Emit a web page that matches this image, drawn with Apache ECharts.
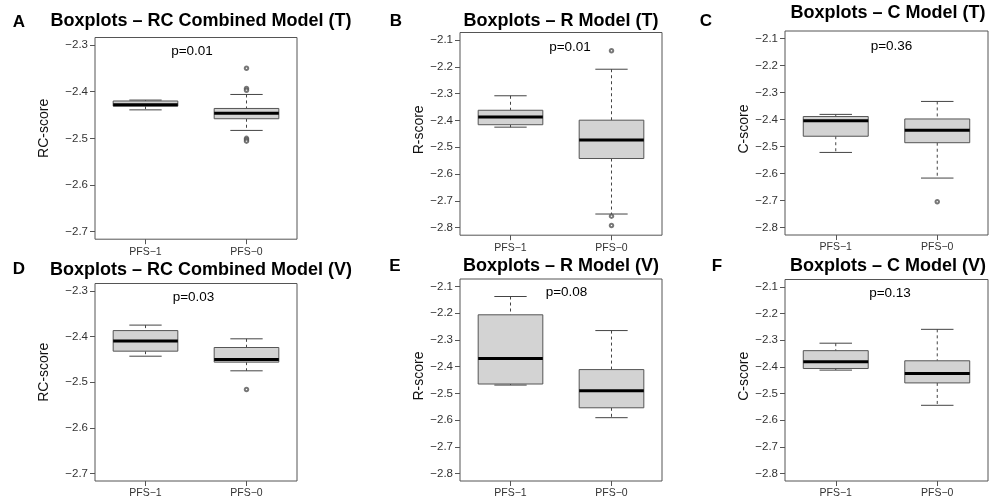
<!DOCTYPE html>
<html><head><meta charset="utf-8">
<script src="https://cdn.jsdelivr.net/npm/echarts@6/dist/echarts.min.js"></script>
<style>html,body{margin:0;padding:0;background:#fff}#c{width:991px;height:499px}</style>
</head><body><div id="c"></div>
<script>
// ---------- data ----------
const categories = ['PFS\u22121', 'PFS\u22120'];
// each box: [lower whisker, Q1, median, Q3, upper whisker]; first PFS-1, then PFS-0
const boxA = [[-2.439, -2.431, -2.428, -2.420, -2.418], [-2.483, -2.458, -2.446, -2.436, -2.406]];
const outA = [[1, -2.350], [1, -2.393], [1, -2.397], [1, -2.500], [1, -2.503], [1, -2.506]];
const boxB = [[-2.425, -2.416, -2.387, -2.362, -2.308], [-2.749, -2.542, -2.473, -2.399, -2.209]];
const outB = [[1, -2.140], [1, -2.757], [1, -2.792]];
const boxC = [[-2.522, -2.462, -2.405, -2.389, -2.381], [-2.617, -2.486, -2.440, -2.398, -2.333]];
const outC = [[1, -2.705]];
const boxD = [[-2.443, -2.432, -2.410, -2.387, -2.375], [-2.475, -2.456, -2.450, -2.424, -2.405]];
const outD = [[1, -2.516]];
const boxE = [[-2.469, -2.465, -2.370, -2.206, -2.1375], [-2.591, -2.554, -2.490, -2.411, -2.265]];
const outE = [];
const boxF = [[-2.412, -2.406, -2.381, -2.339, -2.311], [-2.544, -2.460, -2.425, -2.377, -2.259]];
const outF = [];
const ticksRC = [-2.7, -2.6, -2.5, -2.4, -2.3];
const ticksRCrange = [-2.716, -2.284];
const ticksSingle = [-2.8, -2.7, -2.6, -2.5, -2.4, -2.3, -2.2, -2.1];
const ticksSingleRange = [-2.828, -2.072];
const letters = ['A', 'B', 'C', 'D', 'E', 'F'];
const titles = ['Boxplots \u2013 RC Combined Model (T)', 'Boxplots \u2013 R Model (T)', 'Boxplots \u2013 C Model (T)',
                'Boxplots \u2013 RC Combined Model (V)', 'Boxplots \u2013 R Model (V)', 'Boxplots \u2013 C Model (V)'];
const pValues = ['p=0.01', 'p=0.01', 'p=0.36', 'p=0.03', 'p=0.08', 'p=0.13'];
const yNames = ['RC-score', 'R-score', 'C-score', 'RC-score', 'R-score', 'C-score'];

// ---------- layout ----------
const FONT = '"Liberation Sans", Arial, Helvetica, sans-serif';
const panels = [
  {box: boxA, out: outA, ticks: ticksRC, range: ticksRCrange, grid: {left: 95, top: 37.5, width: 202, height: 201.7}, nameGap: 44, namePad: 20,
   letter: [19, 22], title: [201, 21.5], p: [192, 51]},
  {box: boxB, out: outB, ticks: ticksSingle, range: ticksSingleRange, grid: {left: 460, top: 32.5, width: 202, height: 202.7}, nameGap: 32, namePad: 8,
   letter: [396, 21], title: [561, 21], p: [570, 47.5]},
  {box: boxC, out: outC, ticks: ticksSingle, range: ticksSingleRange, grid: {left: 785, top: 31, width: 203, height: 204}, nameGap: 32, namePad: 8,
   letter: [706, 21], title: [888, 13.5], p: [891.5, 46]},
  {box: boxD, out: outD, ticks: ticksRC, range: ticksRCrange, grid: {left: 95, top: 283.5, width: 202, height: 201}, nameGap: 44, namePad: 20,
   letter: [19, 269], title: [201, 270.5], p: [193.5, 297.5]},
  {box: boxE, out: outE, ticks: ticksSingle, range: ticksSingleRange, grid: {left: 460, top: 279, width: 202, height: 202}, nameGap: 32, namePad: 8,
   letter: [395, 266], title: [561, 266.5], p: [566.5, 292.5]},
  {box: boxF, out: outF, ticks: ticksSingle, range: ticksSingleRange, grid: {left: 785, top: 279.5, width: 203, height: 203.3}, nameGap: 32, namePad: 8,
   letter: [717, 266], title: [888, 266.5], p: [890, 293]}
];

const fmt = v => (v < 0 ? '\u2212' : '') + Math.abs(v).toFixed(1);

function renderBox(params, api) {
  const x = api.value(0);
  const low = api.coord([x, api.value(1)]);
  const q1 = api.coord([x, api.value(2)]);
  const med = api.coord([x, api.value(3)]);
  const q3 = api.coord([x, api.value(4)]);
  const high = api.coord([x, api.value(5)]);
  const band = api.size([1, 0])[0];
  const bw = band * 0.64, cw = bw * 0.5, cx = low[0];
  const dash = {stroke: '#444', lineWidth: 1, lineDash: [3, 3], fill: null};
  const solid = {stroke: '#444', lineWidth: 1, fill: null};
  return {type: 'group', children: [
    {type: 'line', shape: {x1: cx, y1: high[1], x2: cx, y2: q3[1]}, style: dash},
    {type: 'line', shape: {x1: cx, y1: q1[1], x2: cx, y2: low[1]}, style: dash},
    {type: 'line', shape: {x1: cx - cw / 2, y1: high[1], x2: cx + cw / 2, y2: high[1]}, style: solid},
    {type: 'line', shape: {x1: cx - cw / 2, y1: low[1], x2: cx + cw / 2, y2: low[1]}, style: solid},
    {type: 'rect', shape: {x: cx - bw / 2, y: q3[1], width: bw, height: q1[1] - q3[1]},
     style: {fill: '#d3d3d3', stroke: '#555', lineWidth: 1}},
    {type: 'line', shape: {x1: cx - bw / 2, y1: med[1], x2: cx + bw / 2, y2: med[1]},
     style: {stroke: '#000', lineWidth: 3, fill: null}}
  ]};
}

const grid = [], xAxis = [], yAxis = [], series = [], graphic = [];
panels.forEach((pn, i) => {
  grid.push(Object.assign({show: true, borderColor: '#555', borderWidth: 1, backgroundColor: 'transparent', containLabel: false}, pn.grid));
  xAxis.push({gridIndex: i, type: 'category', data: categories, boundaryGap: true,
    axisLine: {show: false}, splitLine: {show: false},
    axisTick: {show: true, alignWithLabel: true, length: 5, lineStyle: {color: '#555'}},
    axisLabel: {fontSize: 10.5, color: '#333', margin: 7, fontFamily: FONT}});
  yAxis.push({gridIndex: i, type: 'value', min: pn.range[0], max: pn.range[1],
    axisLine: {show: false}, splitLine: {show: false},
    axisTick: {show: true, length: 5, customValues: pn.ticks, lineStyle: {color: '#555'}},
    axisLabel: {customValues: pn.ticks, formatter: fmt, fontSize: 11.5, color: '#333', margin: 7, fontFamily: FONT},
    name: yNames[i], nameLocation: 'middle', nameGap: pn.nameGap,
    nameTextStyle: {fontSize: 14, color: '#111', fontFamily: FONT, padding: [0, 0, 0, pn.namePad]}});
  series.push({type: 'custom', xAxisIndex: i, yAxisIndex: i, renderItem: renderBox,
    encode: {x: 0, y: [1, 2, 3, 4, 5]}, silent: true,
    data: pn.box.map((d, k) => [k].concat(d))});
  series.push({type: 'scatter', xAxisIndex: i, yAxisIndex: i, symbol: 'emptyCircle', symbolSize: 3.5, silent: true,
    itemStyle: {color: '#555', borderColor: '#555', borderWidth: 1}, data: pn.out});
  graphic.push({type: 'text', x: pn.letter[0], y: pn.letter[1],
    style: {text: letters[i], font: 'bold 17px ' + FONT, fill: '#000', align: 'center', verticalAlign: 'middle'}});
  graphic.push({type: 'text', x: pn.title[0], y: pn.title[1],
    style: {text: titles[i], font: 'bold 18px ' + FONT, fill: '#000', align: 'center', verticalAlign: 'middle'}});
  graphic.push({type: 'text', x: pn.p[0], y: pn.p[1],
    style: {text: pValues[i], font: '13.5px ' + FONT, fill: '#000', align: 'center', verticalAlign: 'middle'}});
});

const chart = echarts.init(document.getElementById('c'), null, {renderer: 'canvas'});
chart.setOption({animation: false, backgroundColor: '#fff', textStyle: {fontFamily: FONT},
  grid, xAxis, yAxis, series, graphic});
</script></body></html>
